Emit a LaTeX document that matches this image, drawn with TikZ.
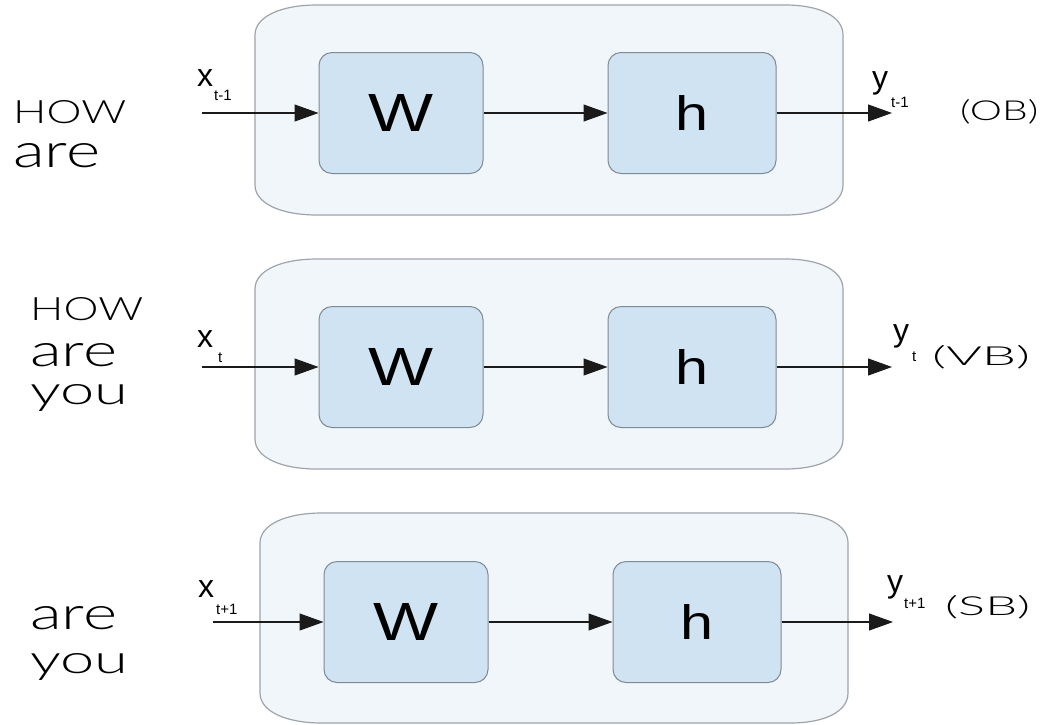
\documentclass[tikz,border=0pt]{standalone}
\usepackage{fontspec}
\setmainfont{Liberation Sans}
\newfontfamily\thinfont{Lato Light}
\usetikzlibrary{arrows.meta}
\definecolor{outerfill}{HTML}{F0F6FA}
\definecolor{outerline}{HTML}{9EA4AA}
\definecolor{innerfill}{HTML}{CFE3F2}
\definecolor{innerline}{HTML}{7F8B94}
\definecolor{linecol}{HTML}{1A1A1A}
\tikzset{
  outerbox/.style={draw=outerline, fill=outerfill, line width=1.2pt},
  cell/.style={draw=innerline, fill=innerfill, line width=1pt, rounded corners=13pt,
    minimum height=121pt, inner sep=0pt},
  flow/.style={draw=linecol, line width=1.1pt, -{Triangle[length=24pt,width=17pt]}},
  word/.style={anchor=base west, inner sep=0pt, text=black, font=\thinfont},
  lab/.style={anchor=base west, inner sep=0pt, font=\fontsize{32}{32}\selectfont},
}
\newcommand{\subtx}[2]{\raisebox{-#1}{\fontsize{15}{15}\selectfont #2}}
\newcommand{\outerpath}{%
  \draw[outerbox] (0,30) .. controls (0,12) and (25,0) .. (62,0) -- (530,0)
    .. controls (566,0) and (588,12) .. (588,30) -- (588,180)
    .. controls (588,198) and (566,210) .. (530,210) -- (62,210)
    .. controls (25,210) and (0,198) .. (0,180) -- cycle;}
\begin{document}
\begin{tikzpicture}[x=1pt,y=-1pt]
\useasboundingbox (0,0) rectangle (1053,724);
\fill[white] (0,0) rectangle (1053,724);

% ---------- block 1 ----------
\begin{scope}[shift={(255,5)}]
  \outerpath
  \node[cell, minimum width=164pt] (W1) at (146,108) {\resizebox{65pt}{37pt}{W}};
  \node[cell, minimum width=168pt] (h1) at (437,108) {\resizebox{33pt}{35pt}{h}};
  \coordinate (in1) at (-53,108);
  \coordinate (out1) at (637,108);
\end{scope}
\draw[flow] (in1) -- (W1.west);
\draw[flow] (W1.east) -- (h1.west);
\draw[flow] (h1.east) -- (out1);
\node[lab] (xl1) at (197,86) {x\kern1pt\subtx{14pt}{t-1}};
\node[lab] (yl1) at (872,88) {y\kern3pt\subtx{19pt}{t-1}};
\node[word] (w1a) at (13,123) {\resizebox{113pt}{23pt}{HOW}};
\node[word] (w1b) at (13,167) {\resizebox{87pt}{24pt}{are}};
\node[word] (t1) at (960,120) {\resizebox{78pt}{21pt}{(OB)}};

% ---------- block 2 ----------
\begin{scope}[shift={(255,259)}]
  \outerpath
  \node[cell, minimum width=164pt] (W2) at (146,108) {\resizebox{65pt}{37pt}{W}};
  \node[cell, minimum width=168pt] (h2) at (437,108) {\resizebox{33pt}{35pt}{h}};
  \coordinate (in2) at (-53,108);
  \coordinate (out2) at (637,108);
\end{scope}
\draw[flow] (in2) -- (W2.west);
\draw[flow] (W2.east) -- (h2.west);
\draw[flow] (h2.east) -- (out2);
\node[lab] (xl2) at (197,347) {x\kern5pt\subtx{15pt}{t}};
\node[lab] (yl2) at (893,341) {y\kern3pt\subtx{20pt}{t}};
\node[word] (w2a) at (30,320) {\resizebox{113pt}{23pt}{HOW}};
\node[word] (w2b) at (30,366) {\resizebox{87pt}{23pt}{are}};
\node[word] (w2c) at (30,404) {\resizebox{98pt}{20pt}{you}};
\node[word] (t2) at (932,365) {\resizebox{98pt}{20pt}{(VB)}};

% ---------- block 3 ----------
\begin{scope}[shift={(260,513)}]
  \outerpath
  \node[cell, minimum width=164pt] (W3) at (146,109) {\resizebox{65pt}{37pt}{W}};
  \node[cell, minimum width=168pt] (h3) at (437,109) {\resizebox{33pt}{35pt}{h}};
  \coordinate (in3) at (-47,109);
  \coordinate (out3) at (633,109);
\end{scope}
\draw[flow] (in3) -- (W3.west);
\draw[flow] (W3.east) -- (h3.west);
\draw[flow] (h3.east) -- (out3);
\node[lab] (xl3) at (198,597) {x\kern2pt\subtx{17pt}{t+1}};
\node[lab] (yl3) at (887,592) {y\kern1pt\subtx{16pt}{t+1}};
\node[word] (w3a) at (30,629) {\resizebox{87pt}{23pt}{are}};
\node[word] (w3b) at (30,673) {\resizebox{98pt}{20pt}{you}};
\node[word] (t3) at (945,615) {\resizebox{85pt}{20pt}{(SB)}};
\end{tikzpicture}
\end{document}
